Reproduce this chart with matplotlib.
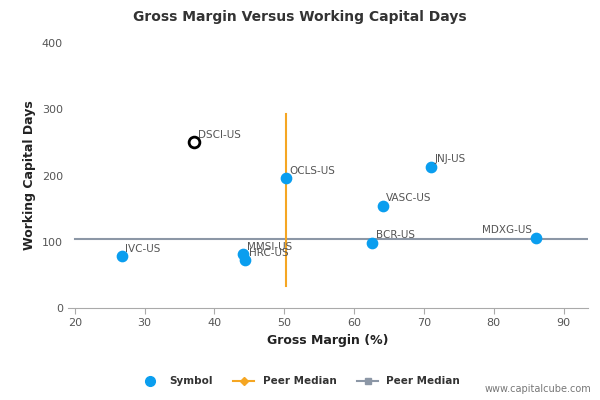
import matplotlib
matplotlib.use("Agg")
import matplotlib.pyplot as plt
from matplotlib.lines import Line2D

names = ["IVC-US", "MMSI-US", "HRC-US", "OCLS-US", "BCR-US", "VASC-US", "JNJ-US", "MDXG-US"]
gm = [26.7, 44.1, 44.4, 50.3, 62.6, 64.1, 71.0, 86.1]
wcd = [78, 81, 72, 196, 98, 154, 213, 106]
focus_name = "DSCI-US"
focus_gm = 37.1
focus_wcd = 250
median_gm = 50.3
median_gm_range = [33, 293]
median_wcd = 104
median_wcd_range = [20, 93.3]

fig = plt.figure(figsize=(6, 4), dpi=100)
ax = fig.add_axes([0.113, 0.23, 0.867, 0.6625])
ax.set_xlim(19, 93.5)
ax.set_ylim(0, 400)
blue = "#0a9eef"
ax.plot(median_wcd_range, [median_wcd, median_wcd], color="#8c97a6", lw=1.5, zorder=1)
ax.plot([median_gm, median_gm], median_gm_range, color="#f5a623", lw=1.5, zorder=1)
ax.scatter(gm, wcd, s=55, color=blue, zorder=3)
ax.scatter([focus_gm], [focus_wcd], s=60, facecolor="white", edgecolor="black", lw=2, zorder=3)
for n, x, y in zip(names, gm, wcd):
    if n == "MDXG-US":
        ax.text(x - 0.6, y + 4, n, fontsize=7.5, color="#555555", ha="right", va="bottom")
    else:
        ax.text(x + 0.5, y + 4, n, fontsize=7.5, color="#555555", va="bottom")
ax.text(focus_gm + 0.5, focus_wcd + 4, focus_name, fontsize=7.5, color="#555555", va="bottom")

for s in ["top", "right", "left"]:
    ax.spines[s].set_visible(False)
ax.spines["bottom"].set_color("#aaaaaa")
ax.set_xticks(range(20, 91, 10))
ax.set_yticks(range(0, 401, 100))
ax.tick_params(labelsize=8, colors="#555555", length=0)
ax.tick_params(axis="x", length=4, color="#aaaaaa")
ax.set_xlabel("Gross Margin (%)", fontsize=9, fontweight="bold", color="#222222")
ax.set_ylabel("Working Capital Days", fontsize=9, fontweight="bold", color="#222222")
fig.suptitle("Gross Margin Versus Working Capital Days", y=0.975, fontsize=10, fontweight="bold", color="#333333")

handles = [
    Line2D([], [], marker="o", color=blue, ls="none", markersize=7),
    Line2D([], [], marker="D", color="#f5a623", markersize=4, lw=1.5),
    Line2D([], [], marker="s", color="#8c97a6", markersize=5, lw=1.5),
]
fig.legend(handles, ["Symbol", "Peer Median", "Peer Median"], loc="center", bbox_to_anchor=(0.5, 0.047),
           ncol=3, frameon=False, prop={"size": 7.5, "weight": "bold"}, labelcolor="#333333", handlelength=2)
fig.text(0.985, 0.02, "www.capitalcube.com", ha="right", fontsize=7, color="#777777")
fig.savefig("out.png")
